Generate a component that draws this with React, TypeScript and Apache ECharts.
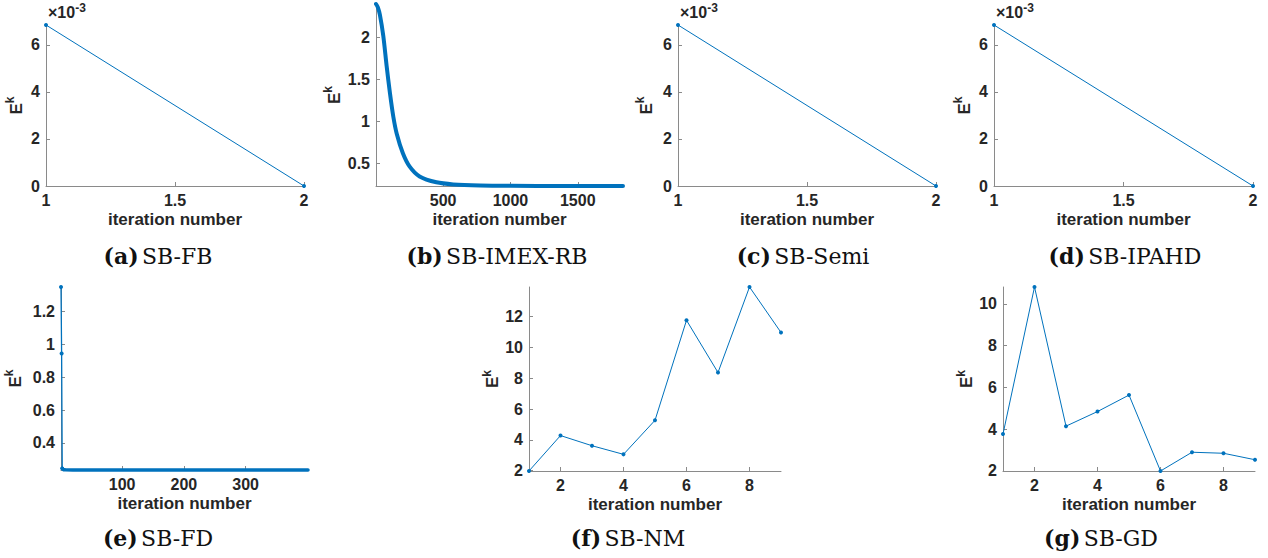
import { useEffect, useRef } from "react";
import * as echarts from "echarts";

const BLUE = "#0072BD";
const AXIS_GREY = "#8a8a8a";
const TEXT = "#262626";
const SANS = "Liberation Sans";
const SERIF = "DejaVu Serif";

// (a) SB-FB, (c) SB-Semi, (d) SB-IPAHD — two iterations each
const twoStepIter = [1, 2];
const fbEnergy = [6.85e-3, 0];
const semiEnergy = [6.85e-3, 0];
const ipahdEnergy = [6.85e-3, 0];
const milliTicks = [0, 0.002, 0.004, 0.006];
const halfTicks = [1, 1.5, 2];

// (b) SB-IMEX-RB
const imexIter = [1, 15, 30, 55, 80, 105, 130, 155, 200, 250, 325, 450, 575, 775, 1000, 1400, 1836];
const imexEnergy = [2.4, 2.36, 2.27, 2.02, 1.66, 1.33, 1.05, 0.85, 0.62, 0.46, 0.34, 0.27, 0.245, 0.232, 0.228, 0.227, 0.226];
const imexXTicks = [500, 1000, 1500];
const imexYTicks = [0.5, 1, 1.5, 2];

// (e) SB-FD — fast initial drop, then a long flat run
const fdIterHead = [1, 2, 3];
const fdEnergyHead = [1.35, 0.945, 0.245];
const fdIterTail = [3, 4, 5, 8, 20, 120, 401];
const fdEnergyTail = [0.245, 0.24, 0.237, 0.236, 0.2355, 0.235, 0.235];
const fdXTicks = [100, 200, 300];
const fdYTicks = [0.4, 0.6, 0.8, 1, 1.2];

// (f) SB-NM and (g) SB-GD — nine iterations
const nineIter = [1, 2, 3, 4, 5, 6, 7, 8, 9];
const nmEnergy = [1.98, 4.28, 3.62, 3.06, 5.27, 11.76, 8.37, 13.92, 10.97];
const gdEnergy = [3.76, 10.81, 4.14, 4.84, 5.63, 1.99, 2.89, 2.84, 2.53];
const evenTicks = [2, 4, 6, 8];
const nmYTicks = [2, 4, 6, 8, 10, 12];
const gdYTicks = [2, 4, 6, 8, 10];

type Line = { x: number[]; y: number[]; width: number; dots: boolean; smooth?: number };
type Panel = {
  box: [number, number, number, number]; // left, top, right, bottom (px)
  lines: Line[];
  xTicks: number[];
  yTicks: number[];
  milli?: boolean;
  yGap: number;
  tag: string;
  title: string;
  cap: [number, number];
};

const panels: Panel[] = [
  {
    box: [46, 25, 304, 186],
    lines: [{ x: twoStepIter, y: fbEnergy, width: 1, dots: true }],
    xTicks: halfTicks, yTicks: milliTicks, milli: true, yGap: 18,
    tag: "(a)", title: "SB-FB", cap: [158, 256],
  },
  {
    box: [376, 4, 623, 186],
    lines: [{ x: imexIter, y: imexEnergy, width: 4, dots: false, smooth: 0.3 }],
    xTicks: imexXTicks, yTicks: imexYTicks, yGap: 30,
    tag: "(b)", title: "SB-IMEX-RB", cap: [497, 256],
  },
  {
    box: [678, 25, 936, 186],
    lines: [{ x: twoStepIter, y: semiEnergy, width: 1, dots: true }],
    xTicks: halfTicks, yTicks: milliTicks, milli: true, yGap: 20,
    tag: "(c)", title: "SB-Semi", cap: [803, 256],
  },
  {
    box: [994, 25, 1253, 186],
    lines: [{ x: twoStepIter, y: ipahdEnergy, width: 1, dots: true }],
    xTicks: halfTicks, yTicks: milliTicks, milli: true, yGap: 18,
    tag: "(d)", title: "SB-IPAHD", cap: [1125, 256],
  },
  {
    box: [61, 287, 308, 470],
    lines: [
      { x: fdIterHead, y: fdEnergyHead, width: 1.3, dots: true },
      { x: fdIterTail, y: fdEnergyTail, width: 3.5, dots: false },
    ],
    xTicks: fdXTicks, yTicks: fdYTicks, yGap: 34,
    tag: "(e)", title: "SB-FD", cap: [158, 538],
  },
  {
    box: [529, 287, 781, 471],
    lines: [{ x: nineIter, y: nmEnergy, width: 1, dots: true }],
    xTicks: evenTicks, yTicks: nmYTicks, yGap: 23,
    tag: "(f)", title: "SB-NM", cap: [628, 538],
  },
  {
    box: [1003, 287, 1255, 471],
    lines: [{ x: nineIter, y: gdEnergy, width: 1, dots: true }],
    xTicks: evenTicks, yTicks: gdYTicks, yGap: 23,
    tag: "(g)", title: "SB-GD", cap: [1101, 538],
  },
];

const W = 1268;
const H = 558;

function buildOption() {
  const grid: any[] = [];
  const xAxis: any[] = [];
  const yAxis: any[] = [];
  const series: any[] = [];
  const graphic: any[] = [];

  const tickLabel = { fontFamily: SANS, fontWeight: 700, fontSize: 16, color: TEXT };

  panels.forEach((p, i) => {
    const [l, t, r, b] = p.box;
    grid.push({ left: l, top: t, width: r - l, height: b - t, containLabel: false });
    xAxis.push({
      type: "value",
      gridIndex: i,
      min: "dataMin",
      max: "dataMax",
      name: "iteration number",
      nameLocation: "middle",
      nameGap: 25,
      nameTextStyle: { fontFamily: SANS, fontWeight: 700, fontSize: 17, color: TEXT },
      axisLine: { show: true, lineStyle: { color: AXIS_GREY, width: 1 } },
      axisTick: { show: true, inside: true, length: 4, customValues: p.xTicks, lineStyle: { color: AXIS_GREY } },
      axisLabel: { ...tickLabel, margin: 6, customValues: p.xTicks, formatter: (v: number) => String(v) },
      splitLine: { show: false },
    });
    yAxis.push({
      type: "value",
      gridIndex: i,
      min: "dataMin",
      max: "dataMax",
      name: "{e|E}{k|k}",
      nameLocation: "middle",
      nameRotate: 90,
      nameGap: p.yGap,
      nameTextStyle: {
        rich: {
          e: { fontFamily: SANS, fontWeight: 700, fontSize: 17, color: TEXT, lineHeight: 24 },
          k: { fontFamily: SANS, fontWeight: 700, fontSize: 12, color: TEXT, verticalAlign: "top", lineHeight: 12 },
        },
      },
      axisLine: { show: true, lineStyle: { color: AXIS_GREY, width: 1 } },
      axisTick: { show: true, inside: true, length: 4, customValues: p.yTicks, lineStyle: { color: AXIS_GREY } },
      axisLabel: {
        ...tickLabel,
        margin: 6,
        customValues: p.yTicks,
        formatter: (v: number) => (p.milli ? String(Math.round(v * 1000)) : String(v)),
      },
      splitLine: { show: false },
    });
    p.lines.forEach((ln) => {
      series.push({
        type: "line",
        xAxisIndex: i,
        yAxisIndex: i,
        data: ln.x.map((x, k) => [x, ln.y[k]]),
        clip: false,
        smooth: ln.smooth ?? false,
        showSymbol: ln.dots,
        symbol: "circle",
        symbolSize: 4,
        itemStyle: { color: BLUE },
        lineStyle: { color: BLUE, width: ln.width, cap: "round", join: "round" },
        silent: true,
      });
    });
    if (p.milli) {
      graphic.push({
        type: "text",
        x: l + 2,
        y: 12,
        style: {
          text: "{m|×10}{s|-3}",
          verticalAlign: "middle",
          rich: {
            m: { fontFamily: SANS, fontWeight: 700, fontSize: 16, fill: TEXT, lineHeight: 20 },
            s: { fontFamily: SANS, fontWeight: 700, fontSize: 12, fill: TEXT, verticalAlign: "top", lineHeight: 11 },
          },
        },
      });
    }
    graphic.push({
      type: "text",
      x: p.cap[0],
      y: p.cap[1],
      style: {
        text: `{b|${p.tag}} {r|${p.title}}`,
        align: "center",
        verticalAlign: "middle",
        rich: {
          b: { fontFamily: SERIF, fontWeight: 700, fontSize: 22, fill: "#111" },
          r: { fontFamily: SERIF, fontSize: 22, fill: "#111" },
        },
      },
    });
  });

  return {
    animation: false,
    backgroundColor: "#ffffff",
    grid,
    xAxis,
    yAxis,
    series,
    graphic,
  };
}

export default function App() {
  const ref = useRef<HTMLDivElement>(null);
  useEffect(() => {
    if (!ref.current) return;
    const chart = echarts.init(ref.current, undefined, { renderer: "svg", width: W, height: H });
    chart.setOption(buildOption() as any);
    return () => chart.dispose();
  }, []);
  return (
    <div
      ref={ref}
      style={{ position: "fixed", left: 0, top: 0, width: W, height: H, background: "#fff" }}
    />
  );
}
